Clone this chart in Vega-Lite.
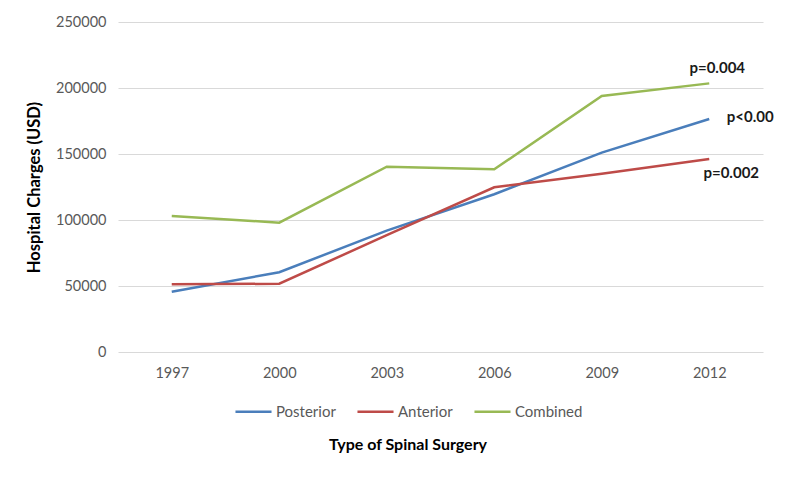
{
  "$schema": "https://vega.github.io/schema/vega-lite/v6.json",
  "width": 645,
  "height": 330,
  "autosize": {"type": "none"},
  "padding": {"left": 118, "top": 22, "right": 37, "bottom": 134},
  "background": "white",
  "config": {
    "font": "Lato",
    "view": {"stroke": null},
    "axis": {"labelFont": "Lato", "titleFont": "Lato"}
  },
  "data": {
    "values": [
      {"year": "1997", "type": "Posterior", "charges": 45700},
      {"year": "2000", "type": "Posterior", "charges": 60400},
      {"year": "2003", "type": "Posterior", "charges": 92000},
      {"year": "2006", "type": "Posterior", "charges": 119500},
      {"year": "2009", "type": "Posterior", "charges": 151000},
      {"year": "2012", "type": "Posterior", "charges": 176500},
      {"year": "1997", "type": "Anterior", "charges": 51300},
      {"year": "2000", "type": "Anterior", "charges": 51700},
      {"year": "2003", "type": "Anterior", "charges": 88500},
      {"year": "2006", "type": "Anterior", "charges": 124800},
      {"year": "2009", "type": "Anterior", "charges": 135000},
      {"year": "2012", "type": "Anterior", "charges": 146200},
      {"year": "1997", "type": "Combined", "charges": 103000},
      {"year": "2000", "type": "Combined", "charges": 98000},
      {"year": "2003", "type": "Combined", "charges": 140400},
      {"year": "2006", "type": "Combined", "charges": 138400},
      {"year": "2009", "type": "Combined", "charges": 194000},
      {"year": "2012", "type": "Combined", "charges": 203500}
    ]
  },
  "layer": [
    {
      "mark": {"type": "line", "strokeWidth": 2.5},
      "encoding": {
        "x": {
          "field": "year", "type": "ordinal",
          "scale": {"type": "point", "padding": 0.5},
          "axis": {"title": null, "labelAngle": 0, "domain": false, "ticks": false, "labelColor": "#595959", "labelFontSize": 14.5, "labelPadding": 14}
        },
        "y": {
          "field": "charges", "type": "quantitative",
          "scale": {"domain": [0, 250000], "nice": false},
          "axis": {"title": "Hospital Charges  (USD)", "titleFontWeight": "bold", "titleFontSize": 16.5, "titleColor": "#000000", "titlePadding": 13, "values": [0, 50000, 100000, 150000, 200000, 250000], "format": "d", "domain": false, "ticks": false, "labelColor": "#595959", "labelFontSize": 14.5, "labelPadding": 12, "gridColor": "#d9d9d9", "gridWidth": 1}
        },
        "color": {
          "field": "type", "type": "nominal",
          "scale": {"domain": ["Posterior", "Anterior", "Combined"], "range": ["#4A7EBB", "#BE4B48", "#98B954"]},
          "legend": {
            "title": "Type of Spinal Surgery",
            "orient": "none",
            "legendX": 116,
            "legendY": 370,
            "direction": "horizontal",
            "symbolType": "stroke",
            "symbolSize": 1300,
            "symbolStrokeWidth": 2.5,
            "labelFontSize": 15,
            "labelColor": "#595959",
            "labelOffset": 3,
            "columnPadding": 16,
            "titleOrient": "bottom",
            "titleAnchor": "middle",
            "titleFontSize": 16,
            "titleFontWeight": "bold",
            "titleColor": "#000000",
            "titlePadding": 17
          }
        }
      }
    },
    {
      "data": {"values": [{"year": "2012", "charges": 215000, "label": "p=0.004"}]},
      "mark": {"type": "text", "fontWeight": "bold", "fontSize": 15, "color": "#1a1a1a", "dx": 8},
      "encoding": {"x": {"field": "year", "type": "ordinal"}, "y": {"field": "charges", "type": "quantitative"}, "text": {"field": "label"}}
    },
    {
      "data": {"values": [{"year": "2012", "charges": 178000, "label": "p<0.00"}]},
      "mark": {"type": "text", "fontWeight": "bold", "fontSize": 15, "color": "#1a1a1a", "dx": 41},
      "encoding": {"x": {"field": "year", "type": "ordinal"}, "y": {"field": "charges", "type": "quantitative"}, "text": {"field": "label"}}
    },
    {
      "data": {"values": [{"year": "2012", "charges": 135600, "label": "p=0.002"}]},
      "mark": {"type": "text", "fontWeight": "bold", "fontSize": 15, "color": "#1a1a1a", "dx": 22},
      "encoding": {"x": {"field": "year", "type": "ordinal"}, "y": {"field": "charges", "type": "quantitative"}, "text": {"field": "label"}}
    }
  ]
}
